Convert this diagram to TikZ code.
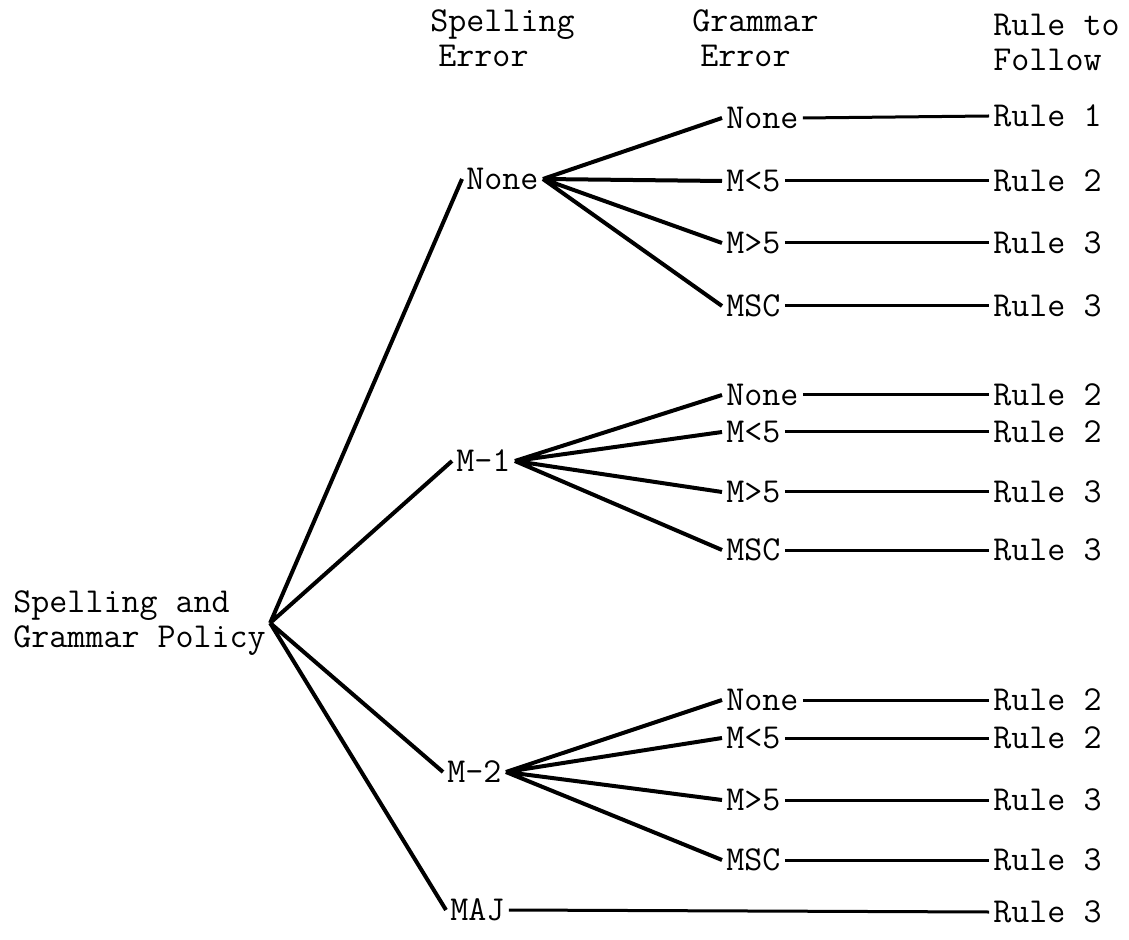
\documentclass[tikz,border=0pt]{standalone}
\usepackage{tikz}
\tikzset{
  heading/.style   = {align=left, anchor=west, inner sep=2pt},
  rootnode/.style  = {align=left, anchor=west, inner sep=2pt},
  spellnode/.style = {anchor=west, inner sep=2pt},
  gramnode/.style  = {anchor=west, inner sep=2pt},
  rulenode/.style  = {anchor=west, inner sep=2pt},
  branch/.style    = {line width=2pt},
  rulelink/.style  = {line width=1.5pt}
}

\begin{document}
\begin{tikzpicture}
 [x=0.5pt, y=-0.5pt, font=\ttfamily\fontsize{17.5}{17.5}\selectfont]
  \useasboundingbox (0,0) rectangle (1129,940);

  % column headings
  \node [heading] at (426,38) {Spelling\\\hspace{4pt}Error};
  \node [heading] at (688,38) {Grammar\\\hspace{4pt}Error};
  \node [heading] at (989,42) {Rule to\\Follow};

  \node [rootnode] (root) at (9,623) {Spelling and\\Grammar Policy};

  % spelling error
  \node [spellnode] (sNone) at (462,179) {None};
  \node [spellnode] (sMone) at (452,461) {M-1};
  \node [spellnode] (sMtwo) at (443,772) {M-2};
  \node [spellnode] (sMaj)  at (446,910) {MAJ};

  % grammar error
  \node [gramnode] (g11) at (722,118) {None};
  \node [gramnode] (g12) at (722,181) {M<5};
  \node [gramnode] (g13) at (722,243) {M>5};
  \node [gramnode] (g14) at (722,306) {MSC};
  \node [gramnode] (g21) at (722,395) {None};
  \node [gramnode] (g22) at (722,432) {M<5};
  \node [gramnode] (g23) at (722,492) {M>5};
  \node [gramnode] (g24) at (722,550) {MSC};
  \node [gramnode] (g31) at (722,700) {None};
  \node [gramnode] (g32) at (722,738) {M<5};
  \node [gramnode] (g33) at (722,800) {M>5};
  \node [gramnode] (g34) at (722,860) {MSC};

  % rules
  \node [rulenode] (r11) at (989,116) {Rule 1};
  \node [rulenode] (r12) at (989,181) {Rule 2};
  \node [rulenode] (r13) at (989,243) {Rule 3};
  \node [rulenode] (r14) at (989,306) {Rule 3};
  \node [rulenode] (r21) at (989,395) {Rule 2};
  \node [rulenode] (r22) at (989,432) {Rule 2};
  \node [rulenode] (r23) at (989,492) {Rule 3};
  \node [rulenode] (r24) at (989,550) {Rule 3};
  \node [rulenode] (r31) at (989,700) {Rule 2};
  \node [rulenode] (r32) at (989,738) {Rule 2};
  \node [rulenode] (r33) at (989,800) {Rule 3};
  \node [rulenode] (r34) at (989,860) {Rule 3};
  \node [rulenode] (rMaj) at (989,912) {Rule 3};

  \draw [branch] (root.east) -- (sNone.west)
                 (root.east) -- (sMone.west)
                 (root.east) -- (sMtwo.west)
                 (root.east) -- (sMaj.west);

  \draw [branch] (sNone.east) -- (g11.west)
                 (sNone.east) -- (g12.west)
                 (sNone.east) -- (g13.west)
                 (sNone.east) -- (g14.west);
  \draw [branch] (sMone.east) -- (g21.west)
                 (sMone.east) -- (g22.west)
                 (sMone.east) -- (g23.west)
                 (sMone.east) -- (g24.west);
  \draw [branch] (sMtwo.east) -- (g31.west)
                 (sMtwo.east) -- (g32.west)
                 (sMtwo.east) -- (g33.west)
                 (sMtwo.east) -- (g34.west);

  \foreach \g in {11,12,13,14,21,22,23,24,31,32,33,34}
    \draw [rulelink] (g\g.east) -- (r\g.west);
  \draw [rulelink] (sMaj.east) -- (rMaj.west);
\end{tikzpicture}
\end{document}
